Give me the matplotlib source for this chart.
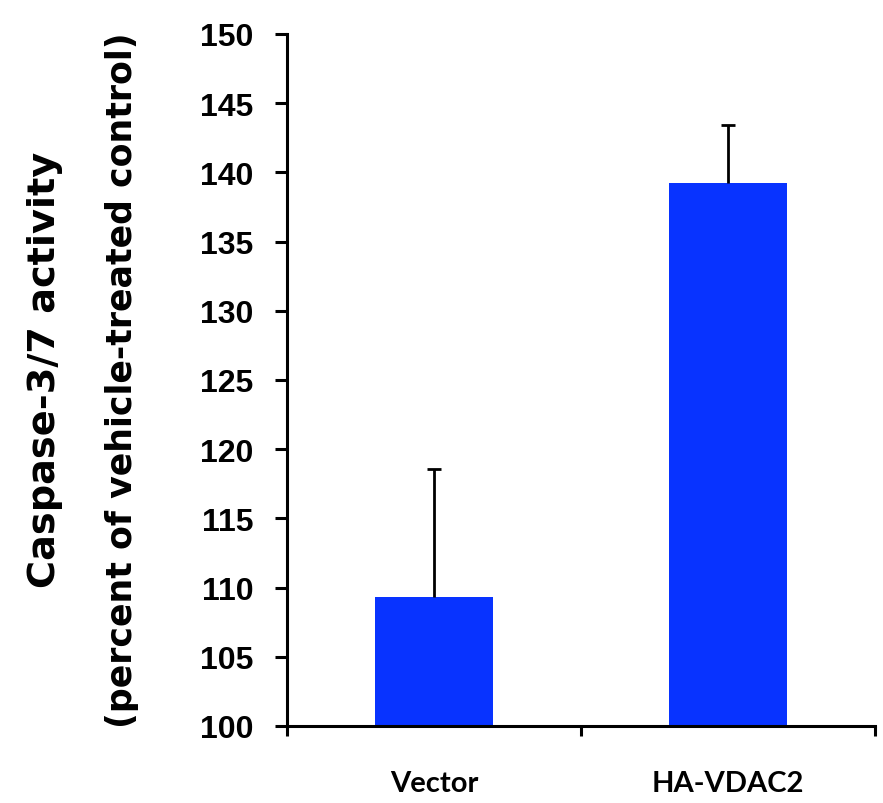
import matplotlib.pyplot as plt

# data
groups = ['Vector', 'HA-VDAC2']
activity = [109.3, 139.2]
err_up = [9.3, 4.2]

fig = plt.figure(figsize=(8.83, 8.04), dpi=100)
ax = fig.add_axes([0.325, 0.0958, 0.666, 0.8607])

xpos = [1, 2]
ax.bar(xpos, activity, width=0.4, color='#0833FF', zorder=2)
eb = ax.errorbar(xpos, activity, yerr=[[0, 0], err_up], fmt='none', ecolor='black',
                 elinewidth=2, capsize=5, capthick=2, zorder=3)
# only the upper cap is shown
eb[1][0].set_visible(False)

ax.set_xlim(0.5, 2.5)
ax.set_ylim(100, 150)
ax.set_yticks(range(100, 151, 5))
ax.set_xticks([0.5, 1.5, 2.5])
ax.set_xticklabels([])
for x, name in zip(xpos, groups):
    ax.text(x, -0.063, name, transform=ax.get_xaxis_transform(), ha='center', va='top',
            fontsize=21, fontweight='bold', family='Lato')

for side in ['top', 'right']:
    ax.spines[side].set_visible(False)
for side in ['left', 'bottom']:
    ax.spines[side].set_linewidth(2.2)

ax.tick_params(axis='y', direction='out', length=9, width=2.2, labelsize=23, pad=15)
ax.tick_params(axis='x', direction='out', length=7, width=2.2)
for lbl in ax.get_yticklabels():
    lbl.set_fontweight('bold')
    lbl.set_family('Liberation Sans')

fig.text(45 / 883, 1 - 370 / 804, 'Caspase-3/7 activity', rotation=90, ha='center', va='center',
         fontsize=27.5, fontweight='bold', family='DejaVu Sans')
fig.text(122 / 883, 1 - 380 / 804, '(percent of vehicle-treated control)', rotation=90,
         ha='center', va='center', fontsize=25, fontweight='bold', family='DejaVu Sans')

fig.savefig('out.png', dpi=100)
